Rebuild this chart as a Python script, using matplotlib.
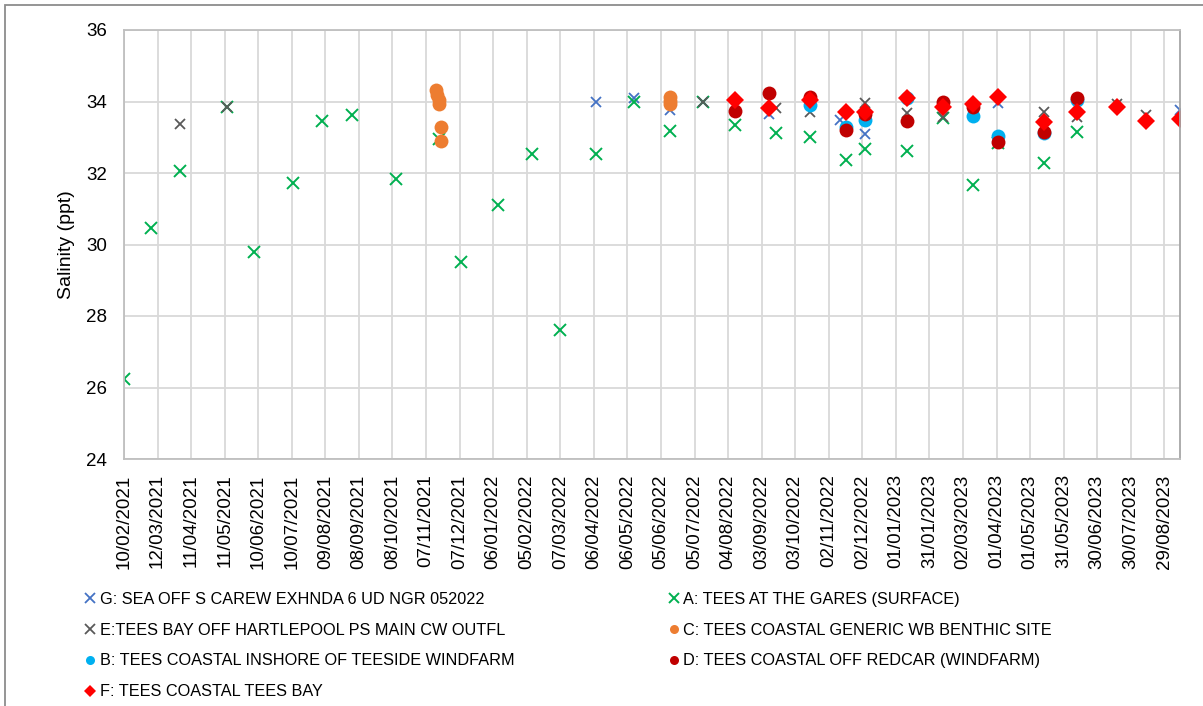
import matplotlib
matplotlib.use("Agg")
import matplotlib.pyplot as plt
from matplotlib.patches import Rectangle
import pandas as pd

# G: SEA OFF S CAREW EXHNDA 6 UD NGR 052022
g_dates = ["2022-04-08", "2022-05-12", "2022-06-13", "2022-07-13", "2022-09-10",
           "2022-11-12", "2022-12-04", "2023-04-02", "2023-09-12"]
g_vals = [33.99, 34.10, 33.76, 34.00, 33.65, 33.47, 33.09, 33.97, 33.76]

# A: TEES AT THE GARES (SURFACE)
a_dates = ["2021-02-10", "2021-03-06", "2021-04-01", "2021-05-13", "2021-06-06",
           "2021-07-11", "2021-08-06", "2021-09-02", "2021-10-11", "2021-11-19",
           "2021-12-08", "2022-01-10", "2022-02-10", "2022-03-07", "2022-04-08",
           "2022-05-12", "2022-06-13", "2022-07-13", "2022-08-10", "2022-09-16",
           "2022-10-16", "2022-11-17", "2022-12-04", "2023-01-11", "2023-02-12",
           "2023-03-11", "2023-04-02", "2023-05-13", "2023-06-12"]
a_vals = [26.23, 30.47, 32.06, 33.85, 29.78, 31.73, 33.46, 33.61, 31.82, 32.95,
          29.51, 31.10, 32.52, 27.61, 32.52, 33.99, 33.17, 33.99, 33.34, 33.13,
          33.02, 32.36, 32.67, 32.62, 33.54, 31.66, 32.85, 32.27, 33.14]

# E:TEES BAY OFF HARTLEPOOL PS MAIN CW OUTFL
e_dates = ["2021-04-01", "2021-05-13", "2022-07-13", "2022-09-16", "2022-10-16",
           "2022-12-04", "2023-01-11", "2023-02-12", "2023-05-13", "2023-06-12",
           "2023-07-18", "2023-08-13"]
e_vals = [33.37, 33.85, 34.00, 33.83, 33.71, 33.95, 33.67, 33.56, 33.70, 33.56,
          33.92, 33.62]

# C: TEES COASTAL GENERIC WB BENTHIC SITE
c_dates = ["2021-11-16", "2021-11-17", "2021-11-19", "2021-11-19", "2021-11-20",
           "2021-11-20", "2022-06-13", "2022-06-13", "2022-06-13"]
c_vals = [34.32, 34.18, 34.05, 33.93, 33.30, 32.90, 34.12, 34.02, 33.92]

# B: TEES COASTAL INSHORE OF TEESIDE WINDFARM
b_dates = ["2022-10-16", "2022-11-17", "2022-12-04", "2023-01-11", "2023-03-11",
           "2023-04-02", "2023-05-13", "2023-06-12"]
b_vals = [33.90, 33.30, 33.48, 34.10, 33.60, 33.03, 33.12, 34.03]

# D: TEES COASTAL OFF REDCAR (WINDFARM)
d_dates = ["2022-08-10", "2022-09-10", "2022-10-16", "2022-11-17", "2022-12-04",
           "2023-01-11", "2023-02-12", "2023-03-11", "2023-04-02", "2023-05-13",
           "2023-06-12"]
d_vals = [33.74, 34.23, 34.12, 33.20, 33.65, 33.46, 33.99, 33.85, 32.88, 33.16,
          34.09]

# F: TEES COASTAL TEES BAY
f_dates = ["2022-08-10", "2022-09-10", "2022-10-16", "2022-11-17", "2022-12-04",
           "2023-01-11", "2023-02-12", "2023-03-11", "2023-04-02", "2023-05-13",
           "2023-06-12", "2023-07-18", "2023-08-13", "2023-09-12"]
f_vals = [34.04, 33.81, 34.03, 33.71, 33.71, 34.09, 33.86, 33.93, 34.13, 33.44,
          33.70, 33.84, 33.46, 33.50]

labels = ["G: SEA OFF S CAREW EXHNDA 6 UD NGR 052022",
          "A: TEES AT THE GARES (SURFACE)",
          "E:TEES BAY OFF HARTLEPOOL PS MAIN CW OUTFL",
          "C: TEES COASTAL GENERIC WB BENTHIC SITE",
          "B: TEES COASTAL INSHORE OF TEESIDE WINDFARM",
          "D: TEES COASTAL OFF REDCAR (WINDFARM)",
          "F: TEES COASTAL TEES BAY"]

x_start, x_end = "2021-02-10", "2023-09-12"

plt.rcParams['font.family'] = ['Liberation Sans', 'DejaVu Sans']

fig = plt.figure(figsize=(12.03, 7.06), dpi=100)
ax = fig.add_axes([124 / 1203, 1 - 459 / 706, (1180 - 124) / 1203, (459 - 30) / 706])

# series, in Excel draw order
series = [
    (g_dates, g_vals, dict(marker='x', ms=7, mew=1.3, color='#4472C4')),
    (a_dates, a_vals, dict(marker='x', ms=8, mew=1.4, color='#00B050')),
    (e_dates, e_vals, dict(marker='x', ms=7, mew=1.3, color='#595959')),
    (c_dates, c_vals, dict(marker='o', ms=10, mew=0, color='#ED7D31')),
    (b_dates, b_vals, dict(marker='o', ms=10, mew=0, color='#00B0F0')),
    (d_dates, d_vals, dict(marker='o', ms=10, mew=0, color='#C00000')),
    (f_dates, f_vals, dict(marker='D', ms=9, mew=0, color='#FF0000')),
]
handles = []
for (dts, vals, style), lab in zip(series, labels):
    h, = ax.plot(pd.to_datetime(dts), vals, ls='none', label=lab, **style)
    handles.append(h)

ax.set_ylim(24, 36)
ax.set_yticks(range(24, 37, 2))
ax.set_xlim(pd.Timestamp(x_start), pd.Timestamp(x_end))
xticks = pd.date_range(x_start, periods=32, freq='30D')
ax.set_xticks(xticks)
ax.set_xticklabels([d.strftime('%d/%m/%Y') for d in xticks], rotation=90)
ax.grid(True, color='#D9D9D9', lw=1.3)
ax.set_axisbelow(True)
ax.tick_params(length=0, labelsize=13.5, colors='#000000')
ax.tick_params(axis='y', pad=12)
ax.tick_params(axis='x', pad=11)
for side in ['left', 'bottom', 'top']:
    ax.spines[side].set_color('#BFBFBF')
    ax.spines[side].set_linewidth(1.3)
ax.spines['right'].set_color('#A6A6A6')
ax.spines['right'].set_linewidth(1.3)
ax.set_ylabel('Salinity (ppt)', fontsize=14, labelpad=8)

# legend in rows of two, like Excel
order = [0, 2, 4, 6, 1, 3, 5]
leg = fig.legend([handles[i] for i in order], [labels[i] for i in order],
                 loc='upper left', bbox_to_anchor=(72 / 1203, 1 - 577 / 706),
                 ncol=2, frameon=False, handlelength=0.4, handletextpad=0.4,
                 columnspacing=9.6, labelspacing=0.98, fontsize=11.7)
for h in leg.legend_handles:
    h.set_markersize(6.5)

# chart area border
fig.patches.append(Rectangle((5 / 1203, -0.1), 1.2, (1 - 5 / 706) + 0.1,
                             transform=fig.transFigure, fill=False,
                             edgecolor='#8C8C8C', lw=1.3))

fig.savefig('out.png', dpi=100)
